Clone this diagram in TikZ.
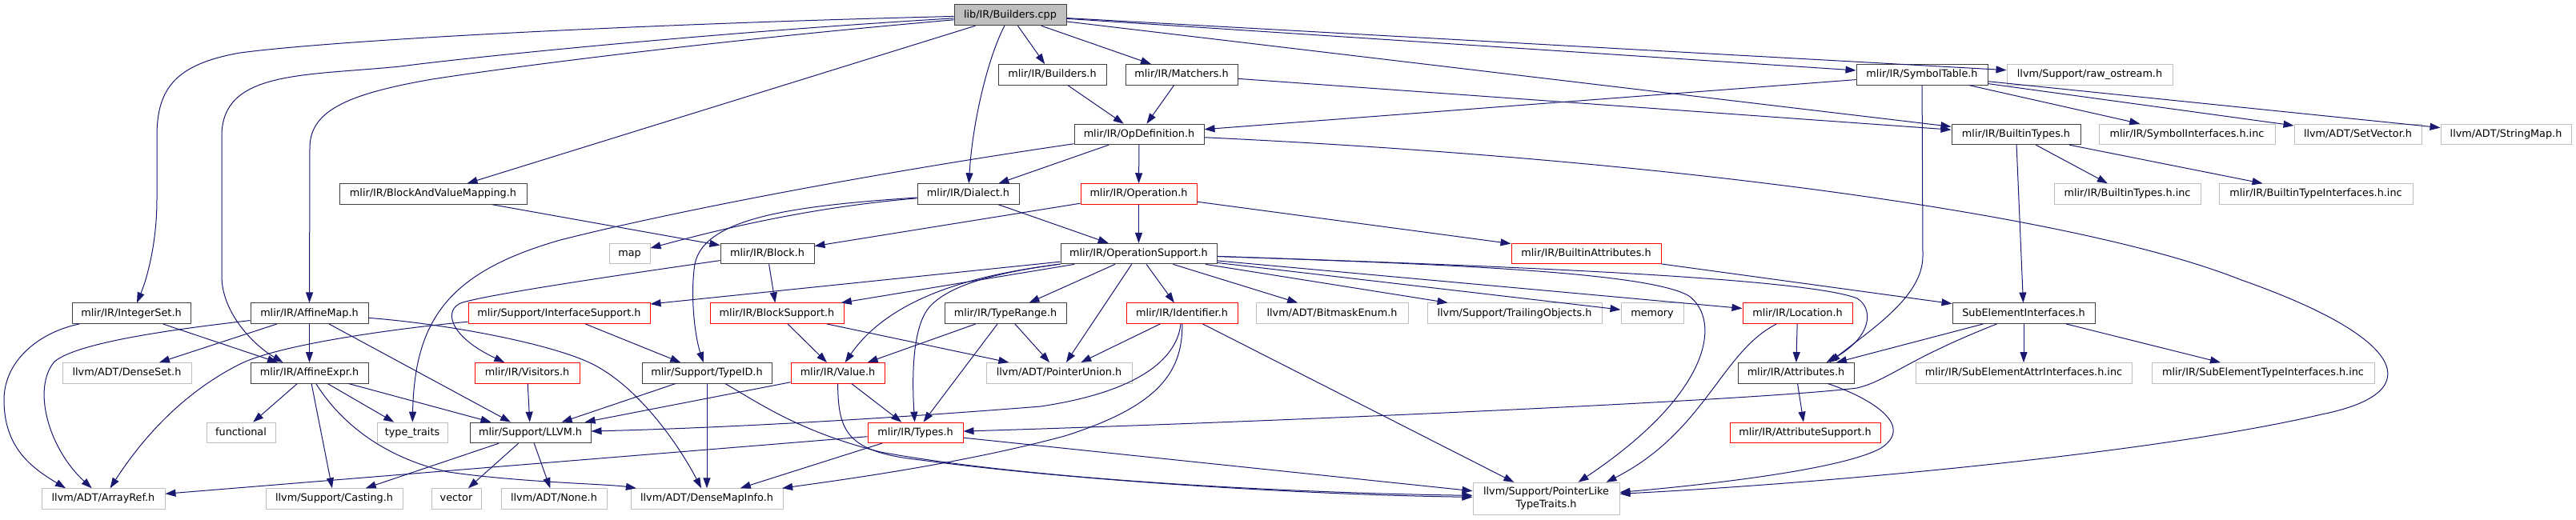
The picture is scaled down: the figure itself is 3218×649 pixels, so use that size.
\documentclass[tikz,border=0pt]{standalone}
\usepackage{fontspec}
\newfontfamily\dvs{DejaVu Sans}
\usetikzlibrary{arrows.meta}
\definecolor{edgec}{HTML}{191970}
\definecolor{gborder}{HTML}{BFBFBF}
\definecolor{dborder}{HTML}{404040}
\definecolor{rootfill}{HTML}{BFBFBF}
\definecolor{rborder}{HTML}{FF0000}
\tikzset{
  base/.style={rectangle, inner sep=0pt, minimum height=25.5pt, line width=1pt, fill=white,
    font=\dvs\fontsize{12.8pt}{16pt}\selectfont, text height=9.5pt, text depth=2.8pt},
  blk/.style={base, draw=dborder},
  gry/.style={base, draw=gborder},
  rd/.style={base, draw=rborder},
  rootnode/.style={base, draw=dborder, fill=rootfill, minimum height=26pt},
  twoline/.style={rectangle, inner sep=0pt, line width=1pt, fill=white, draw=gborder, align=center,
    minimum height=40pt, font=\dvs\fontsize{12.8pt}{16pt}\selectfont},
  e/.style={draw=edgec, line width=1pt, -{Triangle[length=13pt,width=9pt]}}
}
\begin{document}
\begin{tikzpicture}[x=1pt,y=-1pt]
\path[fill=white, use as bounding box] (0,0) rectangle (3218,649);
% row 0
\node[rootnode, minimum width=140pt] (cpp) at (1262,18.7) {lib/IR/Builders.cpp};
% row 1
\node[blk, minimum width=135pt] (bh) at (1314.5,93.3) {mlir/IR/Builders.h};
\node[blk, minimum width=140pt] (mat) at (1476,93.3) {mlir/IR/Matchers.h};
\node[blk, minimum width=164pt] (symt) at (2401,93.3) {mlir/IR/SymbolTable.h};
\node[gry, minimum width=207pt] (raw) at (2610.5,93.3) {llvm/Support/raw\_ostream.h};
% row 2
\node[blk, minimum width=162pt] (opdef) at (1423,167.9) {mlir/IR/OpDefinition.h};
\node[blk, minimum width=161pt] (btypes) at (2518.5,167.9) {mlir/IR/BuiltinTypes.h};
\node[gry, minimum width=220pt] (syminc) at (2732,167.9) {mlir/IR/SymbolInterfaces.h.inc};
\node[gry, minimum width=159pt] (setvec) at (2945.5,167.9) {llvm/ADT/SetVector.h};
\node[gry, minimum width=163pt] (strmap) at (3130.5,167.9) {llvm/ADT/StringMap.h};
% row 3
\node[blk, minimum width=234pt] (bavm) at (541,242.5) {mlir/IR/BlockAndValueMapping.h};
\node[blk, minimum width=127pt] (dialect) at (1209.5,242.5) {mlir/IR/Dialect.h};
\node[rd, minimum width=145pt] (oper) at (1422.5,242.5) {mlir/IR/Operation.h};
\node[gry, minimum width=183pt] (btinc) at (2657.5,242.5) {mlir/IR/BuiltinTypes.h.inc};
\node[gry, minimum width=242pt] (btiinc) at (2893,242.5) {mlir/IR/BuiltinTypeInterfaces.h.inc};
% row 4
\node[gry, minimum width=51pt] (map) at (786.5,317.1) {map};
\node[blk, minimum width=117pt] (block) at (958.5,317.1) {mlir/IR/Block.h};
\node[blk, minimum width=195pt] (opsup) at (1422.5,317.1) {mlir/IR/OperationSupport.h};
\node[rd, minimum width=187pt] (battr) at (1981.5,317.1) {mlir/IR/BuiltinAttributes.h};
% row 5
\node[blk, minimum width=148pt] (intset) at (164,391.7) {mlir/IR/IntegerSet.h};
\node[blk, minimum width=147pt] (amap) at (386.5,391.7) {mlir/IR/AffineMap.h};
\node[rd, minimum width=227pt] (ifsup) at (698.5,391.7) {mlir/Support/InterfaceSupport.h};
\node[rd, minimum width=167pt] (bsup) at (970.5,391.7) {mlir/IR/BlockSupport.h};
\node[blk, minimum width=152pt] (trange) at (1256,391.7) {mlir/IR/TypeRange.h};
\node[rd, minimum width=139pt] (ident) at (1476.5,391.7) {mlir/IR/Identifier.h};
\node[gry, minimum width=190pt] (bitmask) at (1664,391.7) {llvm/ADT/BitmaskEnum.h};
\node[gry, minimum width=218pt] (trail) at (1892,391.7) {llvm/Support/TrailingObjects.h};
\node[gry, minimum width=78pt] (memory) at (2064,391.7) {memory};
\node[rd, minimum width=137pt] (loc) at (2245.5,391.7) {mlir/IR/Location.h};
\node[blk, minimum width=178pt] (subel) at (2528,391.7) {SubElementInterfaces.h};
% row 6
\node[gry, minimum width=161pt] (denseset) at (158.5,466.3) {llvm/ADT/DenseSet.h};
\node[blk, minimum width=147pt] (aexpr) at (386.5,466.3) {mlir/IR/AffineExpr.h};
\node[rd, minimum width=131pt] (visit) at (658.5,466.3) {mlir/IR/Visitors.h};
\node[blk, minimum width=162pt] (typeid) at (883,466.3) {mlir/Support/TypeID.h};
\node[rd, minimum width=117pt] (value) at (1046.5,466.3) {mlir/IR/Value.h};
\node[gry, minimum width=182pt] (punion) at (1323,466.3) {llvm/ADT/PointerUnion.h};
\node[blk, minimum width=145pt] (attrs) at (2243.5,466.3) {mlir/IR/Attributes.h};
\node[gry, minimum width=270pt] (seattr) at (2528,466.3) {mlir/IR/SubElementAttrInterfaces.h.inc};
\node[gry, minimum width=278pt] (setype) at (2827,466.3) {mlir/IR/SubElementTypeInterfaces.h.inc};
% row 7
\node[gry, minimum width=86pt] (functional) at (301,540.9) {functional};
\node[gry, minimum width=88pt] (ttraits) at (515,540.9) {type\_traits};
\node[blk, minimum width=151pt] (llvmh) at (662.5,540.9) {mlir/Support/LLVM.h};
\node[rd, minimum width=119pt] (types) at (1143.5,540.9) {mlir/IR/Types.h};
\node[rd, minimum width=188pt] (attrsup) at (2255,540.9) {mlir/IR/AttributeSupport.h};
% row 8
\node[gry, minimum width=154pt] (arrayref) at (129,623.5) {llvm/ADT/ArrayRef.h};
\node[gry, minimum width=171pt] (casting) at (417.5,623.5) {llvm/Support/Casting.h};
\node[gry, minimum width=62pt] (vector) at (570,623.5) {vector};
\node[gry, minimum width=132pt] (none) at (692,623.5) {llvm/ADT/None.h};
\node[gry, minimum width=190pt] (dmi) at (883,623.5) {llvm/ADT/DenseMapInfo.h};
\node[twoline, minimum width=183pt] (plike) at (1931.5,623.3) {llvm/Support/PointerLike\\TypeTraits.h};

% ---- edges from root
\draw[e] (cpp) .. controls (800,30) and (420,50) .. (300,66) .. controls (220,80) and (196,110) .. (196,170) -- (196,250) .. controls (196,300) and (185,345) .. ([xshift=7pt]intset.north);
\draw[e] (cpp) .. controls (900,40) and (600,70) .. (500,83) .. controls (380,95) and (277,88) .. (277,170) -- (277,345) .. controls (277,390) and (315,430) .. ([xshift=-33pt]aexpr.north);
\draw[e] (cpp) .. controls (900,50) and (650,82) .. (540,99) .. controls (430,118) and (387,140) .. (387,185) -- (amap);
\draw[e] (cpp) -- (bavm);
\draw[e] (cpp) .. controls (1235,70) and (1215,150) .. (dialect);
\draw[e] (cpp) -- (bh);
\draw[e] (cpp) -- (mat);
\draw[e] (cpp) -- (symt);
\draw[e] (cpp) -- (raw);
\draw[e] (cpp) -- (btypes);
% ---- row 1
\draw[e] (bh) -- (opdef);
\draw[e] (mat) -- (opdef);
\draw[e] (mat) -- (btypes);
\draw[e] (symt) -- (opdef);
\draw[e] (symt) -- (2402,320) .. controls (2402,370) and (2340,410) .. ([xshift=42pt]attrs.north);
\draw[e] (symt) -- (syminc);
\draw[e] (symt) -- (setvec);
\draw[e] (symt) -- (strmap);
% ---- row 2
\draw[e] (opdef) -- (dialect);
\draw[e] (opdef) -- (oper);
\draw[e] (opdef) .. controls (1100,215) and (850,262) .. (700,300) .. controls (560,340) and (518,400) .. (ttraits);
\draw[e] (opdef) .. controls (2100,200) and (2600,270) .. (2800,350) .. controls (3000,420) and (3040,490) .. (2900,518) .. controls (2700,565) and (2300,603) .. ([yshift=6pt]plike.east);
\draw[e] (btypes) -- (subel);
\draw[e] (btypes) -- (btinc);
\draw[e] (btypes) -- (btiinc);
% ---- row 3
\draw[e] (dialect) .. controls (1000,260) and (880,292) .. (map);
\draw[e] (dialect) .. controls (1000,257) and (880,270) .. (868,330) .. controls (862,370) and (868,420) .. (typeid);
\draw[e] (dialect) -- (opsup);
\draw[e] (oper) -- (opsup);
\draw[e] (oper) -- (block);
\draw[e] (oper) -- (battr);
\draw[e] (bavm) -- (block);
% ---- row 4
\draw[e] (block) -- (bsup);
\draw[e] (block) .. controls (800,340) and (620,366) .. (578,378) .. controls (553,386) and (560,420) .. (visit);
\draw[e] (opsup) -- (ifsup);
\draw[e] (opsup) -- (bsup);
\draw[e] (opsup) .. controls (1250,340) and (1120,360) .. (value);
\draw[e] (opsup) -- (trange);
\draw[e] (opsup) -- (punion);
\draw[e] (opsup) -- (ident);
\draw[e] (opsup) -- (bitmask);
\draw[e] (opsup) -- (trail);
\draw[e] (opsup) -- (memory);
\draw[e] (opsup) -- (loc);
\draw[e] (opsup) .. controls (1800,330) and (2250,345) .. (2320,373) .. controls (2340,385) and (2340,420) .. ([xshift=38pt]attrs.north);
\draw[e] (opsup) .. controls (1800,330) and (2060,340) .. (2110,370) .. controls (2150,400) and (2140,490) .. ([xshift=40pt]plike.north);
\draw[e] (opsup) .. controls (1250,340) and (1185,355) .. (1160,385) .. controls (1140,410) and (1139,470) .. (types);
\draw[e] (battr) -- (subel);
% ---- row 5
\draw[e] (intset) -- (aexpr);
\draw[e] (intset) .. controls (50,415) and (5,450) .. (5,500) .. controls (5,560) and (40,585) .. ([xshift=-47pt]arrayref.north);
\draw[e] (amap) -- (aexpr);
\draw[e] (amap) -- (denseset);
\draw[e] (amap) .. controls (250,408) and (100,425) .. (68,452) .. controls (40,485) and (60,560) .. (arrayref);
\draw[e] (amap) -- (llvmh);
\draw[e] (amap) .. controls (560,405) and (690,430) .. (740,455) .. controls (800,485) and (850,560) .. (dmi);
\draw[e] (ifsup) -- (typeid);
\draw[e] (ifsup) .. controls (500,410) and (350,430) .. (300,455) .. controls (220,495) and (170,560) .. (arrayref);
\draw[e] (bsup) -- (value);
\draw[e] (bsup) -- (punion);
\draw[e] (trange) -- (value);
\draw[e] (trange) -- (types);
\draw[e] (trange) -- (punion);
\draw[e] (ident) -- (punion);
\draw[e] (ident) .. controls (1470,450) and (1420,490) .. (1300,508) .. controls (1100,524) and (900,535) .. (llvmh);
\draw[e] (ident) .. controls (1478,470) and (1440,510) .. (1330,545) .. controls (1200,580) and (1050,600) .. (dmi);
\draw[e] (ident) -- (plike);
\draw[e] (loc) -- (attrs);
\draw[e] (loc) .. controls (2150,440) and (2130,540) .. ([xshift=75pt]plike.north);
\draw[e] (subel) -- (attrs);
\draw[e] (subel) -- (seattr);
\draw[e] (subel) -- (setype);
\draw[e] (subel) .. controls (2380,450) and (2360,475) .. (2320,485) .. controls (2200,500) and (1600,527) .. (types);
% ---- row 6
\draw[e] (aexpr) -- (functional);
\draw[e] (aexpr) -- (ttraits);
\draw[e] (aexpr) -- (casting);
\draw[e] (aexpr) -- (llvmh);
\draw[e] (aexpr) .. controls (420,520) and (470,570) .. (560,590) .. controls (650,603) and (760,605) .. (dmi);
\draw[e] (visit) -- (llvmh);
\draw[e] (typeid) -- (llvmh);
\draw[e] (typeid) -- (dmi);
\draw[e] (typeid) .. controls (950,505) and (1000,540) .. (1100,565) .. controls (1300,602) and (1650,617) .. ([yshift=4pt]plike.west);
\draw[e] (value) -- (llvmh);
\draw[e] (value) -- (types);
\draw[e] (value) .. controls (1047,540) and (1058,565) .. (1150,575) .. controls (1350,602) and (1650,619) .. ([yshift=2pt]plike.west);
\draw[e] (attrs) -- (attrsup);
\draw[e] (attrs) .. controls (2330,495) and (2395,530) .. (2350,560) .. controls (2300,588) and (2120,607) .. (plike);
% ---- row 7
\draw[e] (types) -- (arrayref);
\draw[e] (types) -- (dmi);
\draw[e] (types) -- (plike);
\draw[e] (llvmh) -- (vector);
\draw[e] (llvmh) -- (none);
\draw[e] (llvmh) -- (casting);
\end{tikzpicture}
\end{document}
